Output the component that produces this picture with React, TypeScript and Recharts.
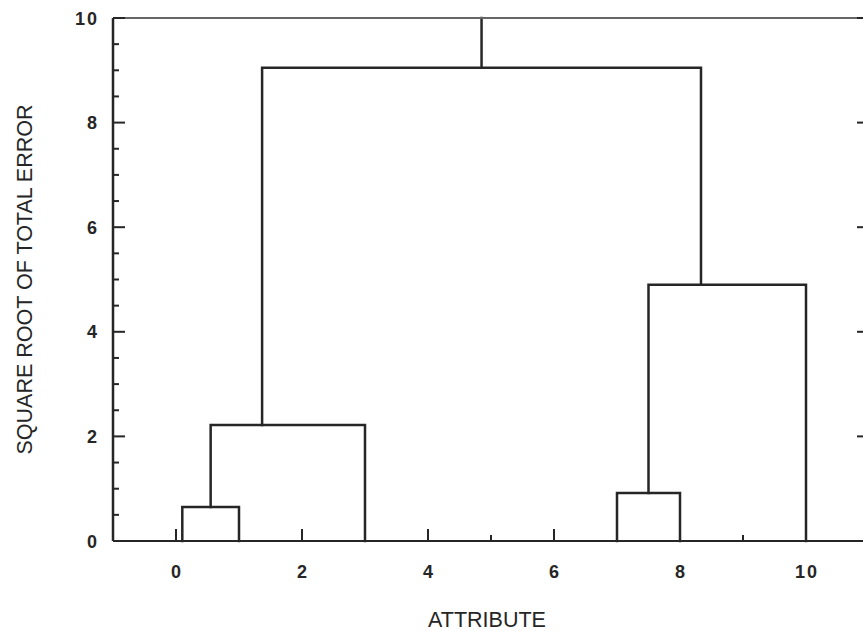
import { Label, Line, LineChart, XAxis, YAxis } from "recharts";

// leaf attributes along the x axis
const leafPositions = [0.1, 1, 3, 7, 8, 10];
// height of each merge, in merge order
const mergeHeights = [0.65, 2.22, 0.92, 4.9, 9.05];
// nodes 0-5 are leaves, 6-10 are the merges above
const mergeChildren: [number, number][] = [
  [0, 1],
  [6, 2],
  [3, 4],
  [8, 5],
  [7, 9],
];
const treeTop = 10;

const yTicks = [0, 0.5, 1, 1.5, 2, 2.5, 3, 3.5, 4, 4.5, 5, 5.5, 6, 6.5, 7, 7.5, 8, 8.5, 9, 9.5, 10];
const yTickLabels = [0, 2, 4, 6, 8, 10];
const xTicks = [-1, 0, 1, 2, 3, 4, 5, 6, 7, 8, 9, 10, 11];
const xTickLabels = [0, 2, 4, 6, 8, 10];

// each merge sits at the mean of the leaves below it
const nodeLeaves: number[][] = leafPositions.map((_, i) => [i]);
const nodeX: number[] = [...leafPositions];
const nodeH: number[] = leafPositions.map(() => 0);
mergeChildren.forEach(([a, b], k) => {
  const leaves = [...nodeLeaves[a], ...nodeLeaves[b]];
  nodeLeaves.push(leaves);
  nodeX.push(leaves.reduce((s, i) => s + leafPositions[i], 0) / leaves.length);
  nodeH.push(mergeHeights[k]);
});
const links = mergeChildren.map(([a, b], k) => [
  { x: nodeX[a], y: nodeH[a] },
  { x: nodeX[a], y: mergeHeights[k] },
  { x: nodeX[b], y: mergeHeights[k] },
  { x: nodeX[b], y: nodeH[b] },
]);
const rootId = nodeX.length - 1;
const rootStem = [
  { x: nodeX[rootId], y: nodeH[rootId] },
  { x: nodeX[rootId], y: treeTop },
];

const ink = "#262626";
const font = "'Liberation Sans', Arial, sans-serif";

const tickText = {
  fontFamily: font,
  fontSize: 18,
  fontWeight: 700,
  fill: ink,
  letterSpacing: 2,
};

const LeftTick = (props: any) => {
  const { x, y, payload } = props;
  const v = payload.value;
  const major = v % 2 === 0;
  return (
    <g>
      <line x1={x} x2={x + (major ? 12 : 6)} y1={y} y2={y} stroke={ink} strokeWidth={2} />
      {yTickLabels.includes(v) && (
        <text x={x - 14} y={y + 6.5} textAnchor="end" style={tickText}>
          {v}
        </text>
      )}
    </g>
  );
};

const RightTick = (props: any) => {
  const { x, y, payload } = props;
  const major = payload.value % 2 === 0;
  return <line x1={x} x2={x - (major ? 12 : 6)} y1={y} y2={y} stroke={ink} strokeWidth={2} />;
};

const BottomTick = (props: any) => {
  const { x, y, payload } = props;
  const v = payload.value;
  const major = v % 2 === 0;
  return (
    <g>
      <line x1={x} x2={x} y1={y} y2={y - (major ? 12 : 6)} stroke={ink} strokeWidth={2} />
      {xTickLabels.includes(v) && (
        <text x={x + 1} y={y + 37} textAnchor="middle" style={tickText}>
          {v}
        </text>
      )}
    </g>
  );
};

const TopTick = (props: any) => {
  const { x, y, payload } = props;
  const major = payload.value % 2 === 0;
  return <line x1={x} x2={x} y1={y} y2={y + (major ? 11 : 6)} stroke="#555" strokeWidth={2} />;
};

export default function App() {
  return (
    <div
      style={{
        position: "absolute",
        left: 0,
        top: 0,
        width: 863,
        height: 631,
        overflow: "hidden",
        background: "#fff",
      }}
    >
      <LineChart width={875} height={631} margin={{ top: 17, right: 5, bottom: 89, left: 112 }}>
        <XAxis
          dataKey="x"
          type="number"
          domain={[-1, 11]}
          ticks={xTicks}
          interval={0}
          height={1}
          tickSize={0}
          tickMargin={0}
          tickLine={false}
          tick={<BottomTick />}
          axisLine={{ stroke: ink, strokeWidth: 2 }}
        >
          <Label
            content={({ viewBox }: any) => (
              <text
                x={viewBox.x + viewBox.width / 2 - 4}
                y={viewBox.y + 86}
                textAnchor="middle"
                style={{ fontFamily: font, fontSize: 21.5, fill: ink }}
              >
                ATTRIBUTE
              </text>
            )}
          />
        </XAxis>
        <XAxis
          xAxisId="top"
          orientation="top"
          dataKey="x"
          type="number"
          domain={[-1, 11]}
          ticks={xTicks}
          interval={0}
          height={1}
          tickSize={0}
          tickMargin={0}
          tickLine={false}
          tick={<TopTick />}
          axisLine={{ stroke: "#666", strokeWidth: 2 }}
        />
        <YAxis
          type="number"
          domain={[0, 10]}
          ticks={yTicks}
          interval={0}
          width={1}
          tickSize={0}
          tickMargin={0}
          tickLine={false}
          tick={<LeftTick />}
          axisLine={{ stroke: ink, strokeWidth: 2.5 }}
        >
          <Label
            content={({ viewBox }: any) => {
              const bx = viewBox.x - 80.5;
              const cy = viewBox.y + viewBox.height / 2;
              return (
                <text
                  x={bx}
                  y={cy}
                  transform={`rotate(-90, ${bx}, ${cy})`}
                  textAnchor="middle"
                  style={{ fontFamily: font, fontSize: 21.5, fill: ink }}
                >
                  SQUARE ROOT OF TOTAL ERROR
                </text>
              );
            }}
          />
        </YAxis>
        <YAxis
          yAxisId="right"
          orientation="right"
          type="number"
          domain={[0, 10]}
          ticks={yTicks}
          interval={0}
          width={1}
          tickSize={0}
          tickMargin={0}
          tickLine={false}
          tick={<RightTick />}
          axisLine={{ stroke: ink, strokeWidth: 2 }}
        />
        {links.map((link, i) => (
          <Line
            key={i}
            data={link}
            dataKey="y"
            type="linear"
            stroke={ink}
            strokeWidth={2.5}
            strokeLinejoin="miter"
            strokeLinecap="square"
            dot={false}
            activeDot={false}
            isAnimationActive={false}
          />
        ))}
        <Line
          yAxisId="right"
          data={rootStem}
          dataKey="y"
          type="linear"
          stroke={ink}
          strokeWidth={2.5}
          strokeLinecap="square"
          dot={false}
          activeDot={false}
          isAnimationActive={false}
        />
      </LineChart>
    </div>
  );
}
